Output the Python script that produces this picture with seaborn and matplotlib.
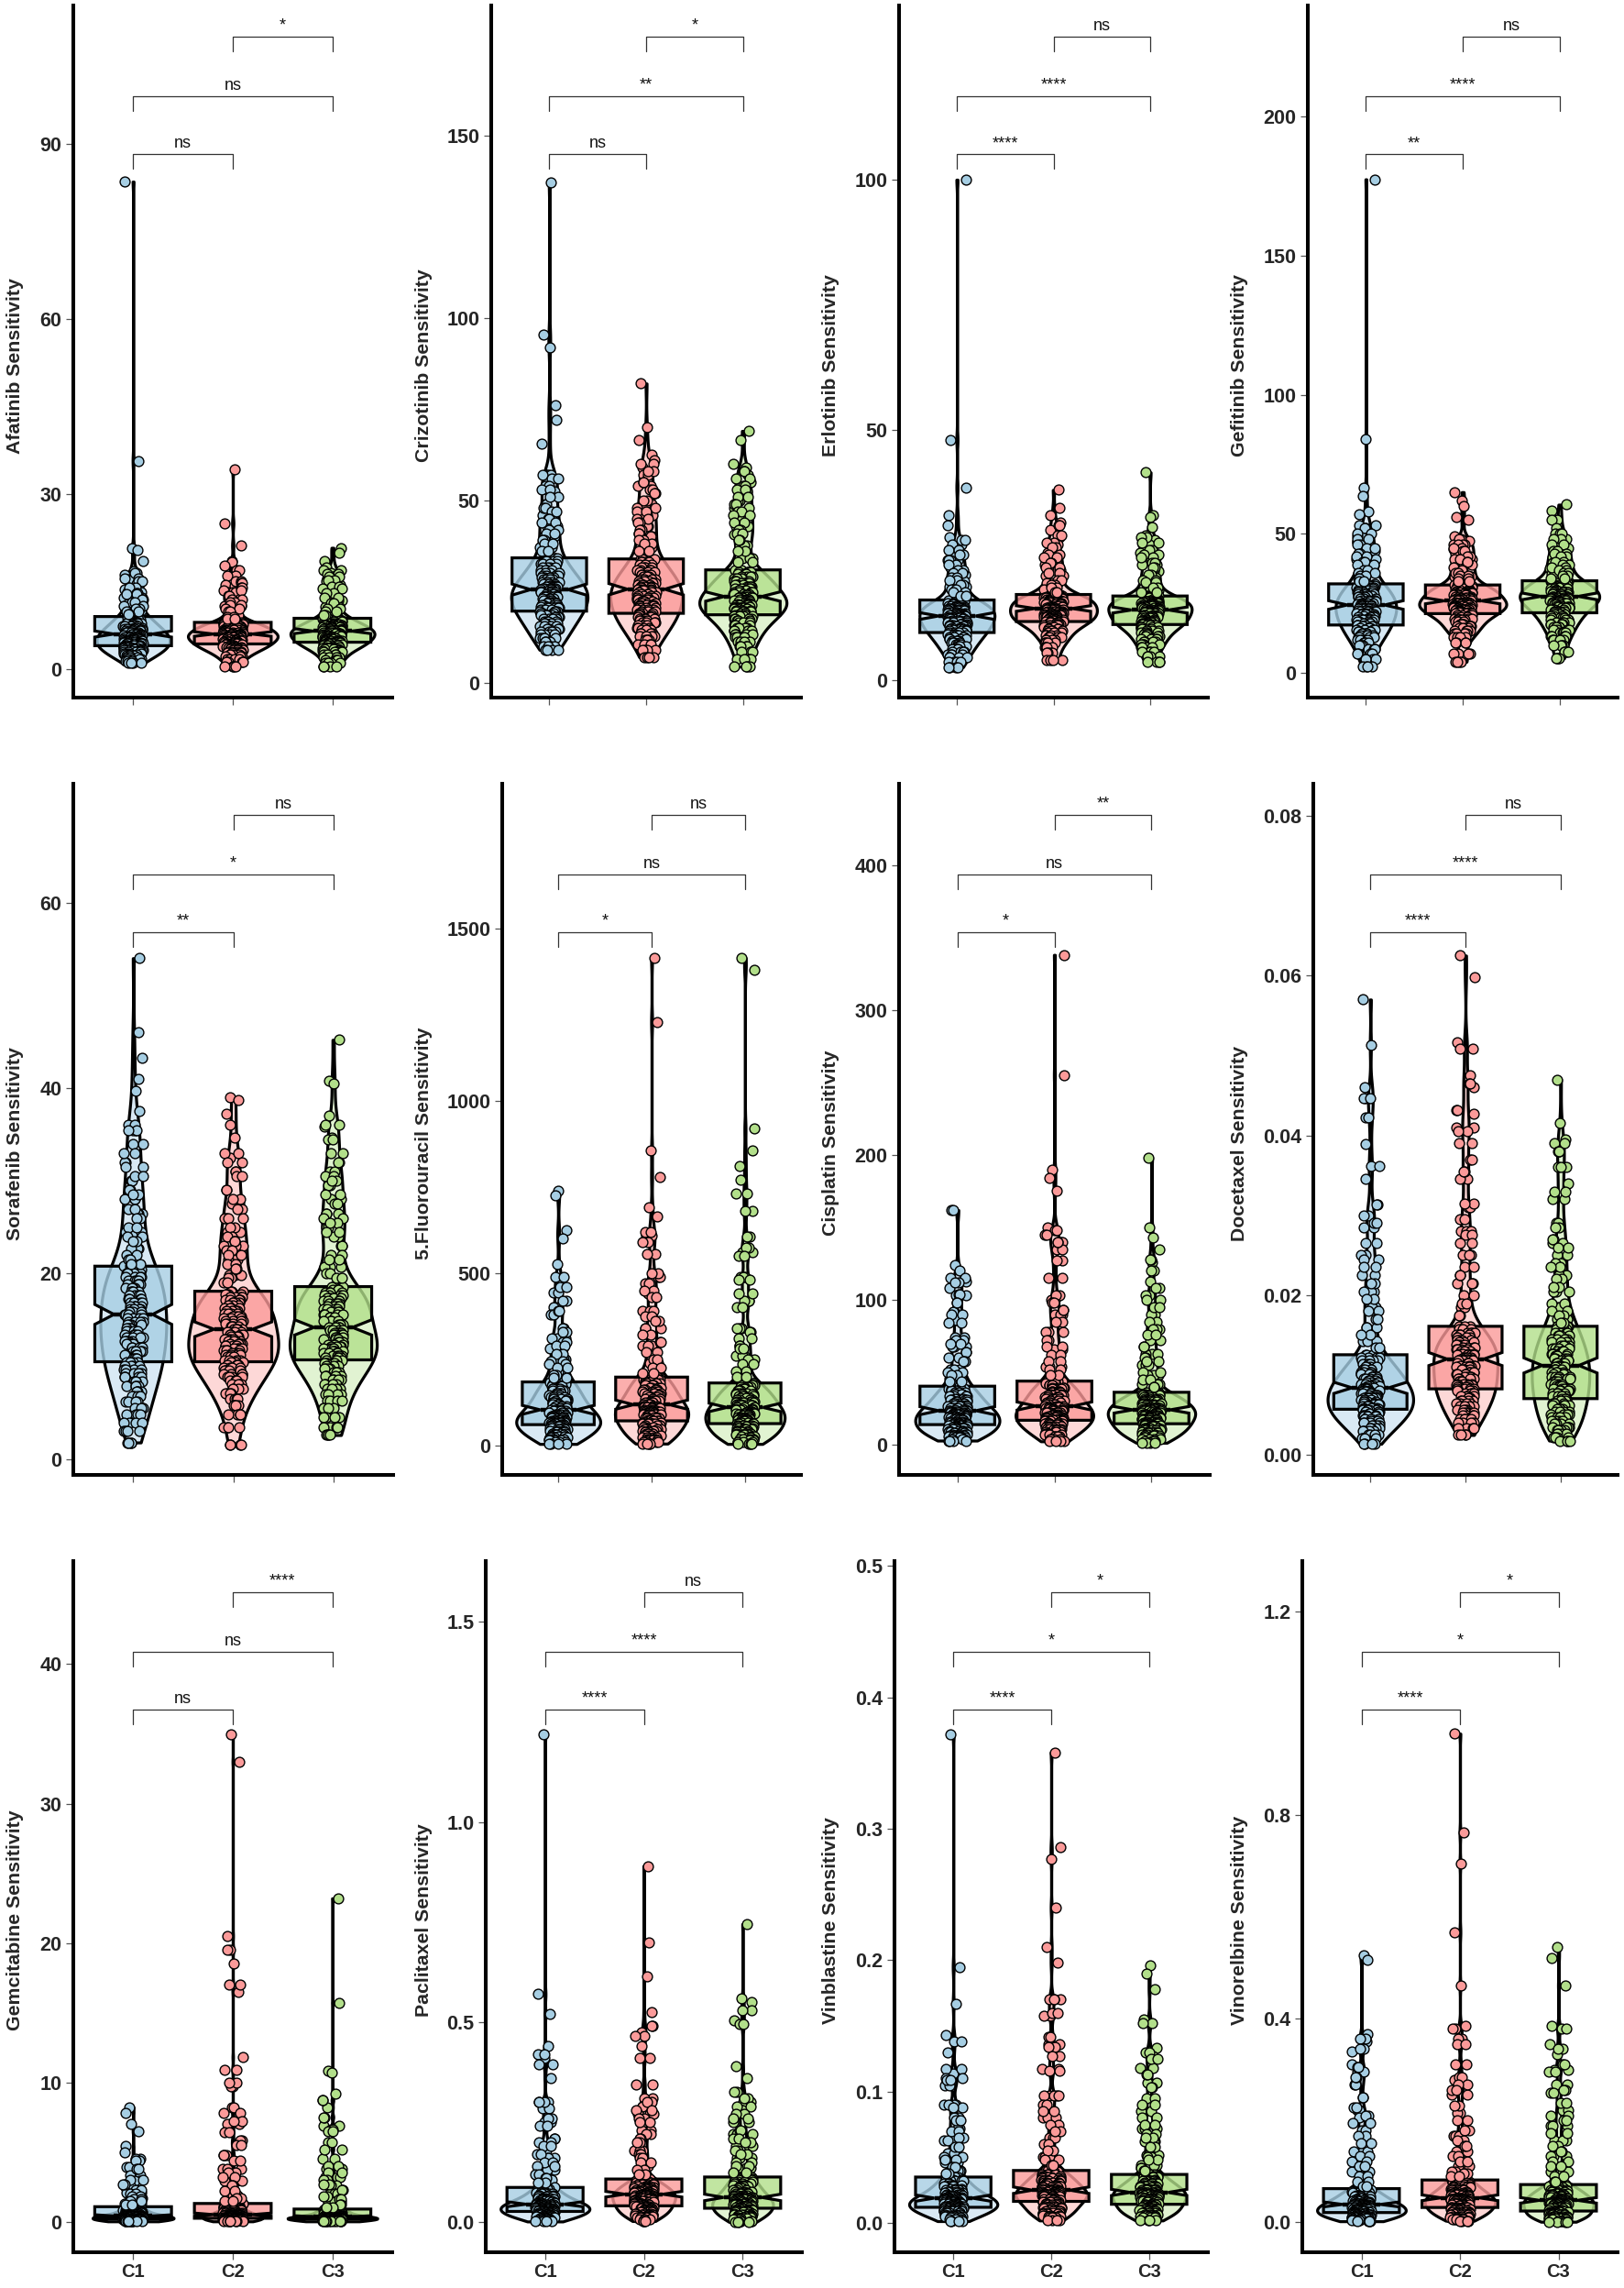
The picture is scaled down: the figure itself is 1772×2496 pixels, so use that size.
import numpy as np
import pandas as pd
import matplotlib
matplotlib.use("Agg")
import matplotlib.pyplot as plt
import matplotlib.transforms as mtrans
from matplotlib.colors import to_rgba
import seaborn as sns

categories = ["C1", "C2", "C3"]

# Values, largest first. The reference has about 200 samples per
# group, too many to read one by one, so each typed value stands for a few samples:
# see sample_weights below. No value is synthesised.
afatinib_c1 = [83.6,35.7,20.8,20.4,18.5,16.8,16.1,15.4,14.6,13.7,13.2,12.3,11.2,10.1,9.0,8.8,8.5,8.2,8.0,7.8,7.5,7.3,7.0,6.9,6.7,6.5,6.3,6.2,6.0,5.9,5.8,5.6,5.5,5.3,5.2,5.0,4.9,4.7,4.6,4.4,4.3,4.1,4.0,3.9,3.7,3.6,3.4,3.3,3.1,2.9,2.7,2.5,2.3,2.0,1.7,1.4,1.0]
afatinib_c2 = [34.3,25.0,21.2,18.5,18.3,17.8,17.0,16.0,14.5,14.3,13.2,12.1,10.8,9.3,8.0,7.9,7.7,7.6,7.4,7.3,7.1,7.0,6.8,6.7,6.5,6.4,6.2,6.1,6.0,5.9,5.8,5.7,5.6,5.5,5.4,5.3,5.1,5.0,4.9,4.7,4.6,4.4,4.3,4.2,4.1,3.9,3.8,3.6,3.4,3.2,3.0,2.8,2.5,2.1,1.7,1.2,0.5]
afatinib_c3 = [20.8,20.0,18.5,17.5,16.5,16.0,15.5,15.0,14.5,13.4,12.6,11.7,10.6,9.6,8.7,8.6,8.3,8.1,7.9,7.7,7.5,7.3,7.2,7.0,6.9,6.8,6.6,6.5,6.5,6.3,6.2,6.1,6.0,5.8,5.7,5.6,5.4,5.3,5.2,5.0,4.9,4.7,4.6,4.5,4.3,4.2,4.0,3.8,3.6,3.4,3.1,2.9,2.5,2.0,1.6,1.0,0.5]
afatinib_upper = ([16.5,15.5,15,14,13,12.8,12,11.5,10.8,10.4,9.8,9.4], [15,14.8,14,13.5,12.6,12,11.5,11,10.3,9.8,9,8.6], [17,16.3,15.8,15.2,14.2,13.8,13,12.3,11.3,10.3,9.9,9.2])

crizotinib_c1 = [137.0,95.5,92.0,76.0,72.0,65.5,57.0,55.0,52.5,49.0,46.0,43.0,40.0,37.0,34.2,33.4,32.5,31.6,30.8,30.0,29.4,28.8,28.2,27.6,27.0,26.6,26.2,25.8,25.5,25.1,24.7,24.3,23.9,23.5,23.0,22.6,22.1,21.7,21.3,20.9,20.4,20.0,19.6,19.1,18.5,18.0,17.4,16.8,16.2,15.5,14.8,14.0,13.2,12.2,11.2,10.0,9.0]
crizotinib_c2 = [82.0,70.0,66.5,62.5,61.0,59.0,57.0,54.0,53.0,49.0,46.0,43.0,40.0,37.0,33.9,33.2,32.4,31.6,30.9,30.2,29.6,29.0,28.4,27.8,27.2,26.8,26.3,26.0,25.6,25.2,24.8,24.3,23.8,23.4,22.9,22.4,21.9,21.4,21.0,20.5,20.0,19.5,19.0,18.6,18.0,17.5,16.9,16.4,15.8,15.1,14.4,13.6,12.7,11.7,10.5,9.0,7.0]
crizotinib_c3 = [69.0,66.5,60.0,59.0,57.0,55.0,52.5,50.0,48.0,45.5,43.0,40.5,37.5,34.0,30.9,30.3,29.7,29.1,28.5,27.9,27.3,26.8,26.3,25.8,25.2,24.8,24.4,24.0,23.6,23.2,22.8,22.5,22.2,21.8,21.5,21.2,20.8,20.5,20.2,19.8,19.4,19.0,18.6,18.2,17.6,17.0,16.4,15.7,15.0,14.2,13.3,12.4,11.2,10.0,8.5,6.5,4.4]
crizotinib_upper = ([57,56,54,53,51,48,47,45,44,42,41,39,38,36], [60,58,55,52,50,48,47,45,44,42,41,39,38,36], [58,56,54,53,51,49,47,46,44,42,41,39,36,33])

erlotinib_c1 = [100.0,48.0,38.5,33.0,31.0,28.5,27.0,25.5,24.0,22.5,21.0,19.8,18.6,17.2,16.0,15.7,15.4,15.1,14.9,14.7,14.5,14.3,14.1,13.9,13.6,13.4,13.2,13.0,12.8,12.6,12.4,12.2,11.9,11.7,11.5,11.2,11.0,10.8,10.5,10.2,10.0,9.8,9.5,9.2,8.9,8.6,8.2,7.9,7.5,7.1,6.7,6.2,5.7,5.1,4.5,3.6,2.6]
erlotinib_c2 = [38.0,34.5,33.0,31.5,30.0,28.5,27.0,25.5,24.0,23.0,22.0,20.8,19.4,18.2,17.1,16.9,16.7,16.5,16.3,16.1,15.9,15.7,15.5,15.3,15.1,14.9,14.7,14.5,14.3,14.1,14.0,13.8,13.6,13.4,13.2,13.0,12.8,12.6,12.4,12.2,12.0,11.9,11.7,11.5,11.2,10.9,10.6,10.2,9.9,9.5,9.0,8.5,8.0,7.4,6.6,5.4,4.0]
erlotinib_c3 = [41.5,33.0,32.5,30.5,29.0,28.0,27.0,25.5,24.3,23.0,21.8,20.5,19.2,18.0,16.8,16.6,16.4,16.2,16.0,15.8,15.6,15.4,15.2,15.0,14.8,14.6,14.4,14.2,14.0,13.9,13.7,13.5,13.3,13.0,12.8,12.6,12.4,12.1,11.9,11.7,11.5,11.3,11.1,10.9,10.6,10.2,9.9,9.5,9.1,8.7,8.2,7.7,7.1,6.5,5.7,4.7,3.6]
erlotinib_upper = ([28,26,25,24,23,22,21.5,20.5,20,19,18.2,17.5,16.8], [31,29,27.5,26.5,25,24.5,23.5,22.5,21.5,20,19,18.5,17.6], [28.5,27.5,26,25,24.5,23.5,22.5,21,20,19.5,18.5,17.5])

gefitinib_c1 = [177.5,84.0,66.5,63.5,58.0,57.0,53.0,51.0,49.0,47.0,44.0,41.0,38.5,35.0,32.0,31.4,30.8,30.2,29.6,29.0,28.4,27.8,27.2,26.7,26.2,25.7,25.2,24.8,24.4,24.0,23.5,23.0,22.5,22.0,21.5,21.0,20.5,20.0,19.5,19.0,18.4,17.8,17.2,16.8,16.2,15.5,14.9,14.2,13.5,12.7,11.8,10.8,9.8,8.5,7.0,5.0,2.3]
gefitinib_c2 = [65.0,62.0,60.0,56.0,55.0,49.0,47.5,46.0,44.5,43.0,41.0,39.0,37.0,34.5,31.6,31.2,30.7,30.3,29.9,29.5,29.1,28.7,28.3,27.9,27.5,27.0,26.6,26.3,25.9,25.5,25.2,24.9,24.6,24.3,24.0,23.7,23.4,23.1,22.8,22.4,22.0,21.7,21.3,20.8,20.2,19.6,19.0,18.3,17.6,16.8,16.0,15.1,14.2,13.0,11.0,7.0,4.0]
gefitinib_c3 = [60.5,58.5,55.0,55.0,52.0,50.0,48.0,47.0,45.0,43.0,41.5,39.5,37.5,35.5,33.1,32.7,32.2,31.8,31.4,31.0,30.6,30.2,29.8,29.3,28.9,28.5,28.2,27.8,27.5,27.1,26.8,26.5,26.2,25.8,25.5,25.1,24.7,24.2,23.8,23.3,22.8,22.2,21.6,21.0,20.4,19.7,19.0,18.2,17.4,16.5,15.5,14.4,13.2,11.8,10.0,7.5,5.2]
gefitinib_upper = ([52,50,48,46,45,43,42,40,39,37,36,35,34,33], [48,46,45,44,42,41,40,38,37,36,35,34,33], [50,48,46,44,43,42,40,39,38,37,36,35,34])

sorafenib_c1 = [54.0,46.0,43.3,41.0,39.7,37.5,35.5,34.0,32.0,30.0,28.0,26.5,24.5,22.7,20.8,20.4,20.0,19.6,19.2,18.9,18.5,18.1,17.7,17.3,16.9,16.5,16.2,15.9,15.6,15.2,14.8,14.5,14.1,13.8,13.4,13.1,12.7,12.4,12.0,11.6,11.2,10.8,10.5,10.1,9.7,9.3,8.9,8.4,7.9,7.3,6.8,6.2,5.5,4.8,3.9,3.0,1.8]
sorafenib_c2 = [39.0,38.7,37.2,36.0,34.7,32.5,31.0,29.0,27.5,26.0,24.5,23.0,21.5,19.8,18.1,17.8,17.5,17.2,16.9,16.6,16.3,16.0,15.7,15.4,15.2,14.9,14.6,14.3,14.0,13.7,13.4,13.2,12.9,12.7,12.4,12.2,11.9,11.7,11.4,11.2,11.0,10.7,10.5,10.2,9.9,9.6,9.2,8.9,8.5,8.1,7.6,7.1,6.5,5.8,4.8,3.4,1.6]
sorafenib_c3 = [45.2,40.8,40.5,37.0,35.8,34.7,33.0,31.0,29.5,28.0,26.5,25.0,23.0,20.7,18.6,18.3,18.0,17.7,17.4,17.1,16.8,16.5,16.2,15.9,15.6,15.3,14.9,14.5,14.2,13.9,13.6,13.4,13.1,12.9,12.6,12.3,12.1,11.9,11.6,11.4,11.1,10.9,10.7,10.4,10.1,9.8,9.4,9.0,8.6,8.1,7.6,7.0,6.3,5.5,4.5,3.4,2.6]
sorafenib_upper = ([36,35.5,33,31.5,30.5,29,28.5,27,26,25,24,23.5,22,21.5,21], [33,32,30.5,28,27,26,25,24,23.5,22.5,22,21,20.5,19.5,19], [36,34.5,32,30.5,30,28.5,27.5,26,25.5,24,24.5,22,21.5,20,19.5])

fluorouracil_c1 = [740,725,625,600,525,480,445,400,380,340,310,280,250,215,184,178,171,165,158,152,146,140,134,129,124,119,113,108,103,99,95,91,87,84,81,78,75,72,69,67,65,62,60,57,54,50,46,42,38,34,30,26,22,18,14,9,4]
fluorouracil_c2 = [1415,1230,855,780,690,665,610,555,490,440,390,340,290,240,198,192,186,180,174,168,162,156,150,145,140,135,130,124,118,114,110,107,104,101,98,95,92,89,86,82,78,74,71,67,63,58,53,48,43,38,33,28,23,18,14,10,5]
fluorouracil_c3 = [1415,1380,920,855,810,770,730,680,605,560,490,420,340,260,181,176,170,164,158,152,147,142,137,132,128,124,120,115,110,106,102,98,95,92,89,86,83,80,77,74,71,67,63,59,55,51,47,43,39,35,31,27,23,19,14,9,4]
fluorouracil_upper = ([490,460,420,390,330,300,290,265,245,235,225,205,195], [620,590,500,470,450,430,375,360,320,300,270,250,225,210], [575,550,480,440,400,330,310,290,280,250,235,215,200])

cisplatin_c1 = [162,162,124,120,113,108,103,92,86,74,68,60,52,46,40.5,39,37.5,36,35,33.5,32,31,30,28.5,27.5,26.5,25.5,24.5,23.6,23,22.3,21.6,21,20.3,19.6,19,18.3,17.6,17,16.2,15.5,14.8,14,13.5,12.8,12,11.3,10.6,9.8,9,8.2,7.4,6.6,5.8,5,4,3]
cisplatin_c2 = [338,255,190,184,175,150,140,135,115,100,90,78,66,54,44,42.5,41,39.5,38.5,37,36,35,34,32.8,31.8,30.5,29.5,28,26.8,26,25.3,24.6,24,23.3,22.6,22,21.3,20.6,20,19.3,18.6,17.8,17,16.4,15.6,14.8,14,13.1,12.2,11.2,10.2,9.2,8,7,5.6,4.2,2.5]
cisplatin_c3 = [198,150,143,135,126,113,103,90,80,72,63,55,48,42,36.3,35,34,33,32,31.2,30.4,29.6,28.8,28,27.2,26.4,25.6,24.9,24.2,23.6,23,22.4,21.8,21.2,20.6,20,19.4,18.7,18,17,16,15.3,14.6,14,13.3,12.6,11.8,11,10,9.2,8.2,7.2,6.2,5.2,4,2.8,1.5]
cisplatin_upper = ([115,112,104,98,90,84,72,70,64,58,50,48,44], [148,145,140,127,103,98,93,85,72,68,62,58,52,48], [128,120,108,100,95,85,80,76,68,60,58,50,45,40])

docetaxel_c1 = [.057,.0513,.046,.0446,.0389,.0345,.0314,.0285,.025,.0225,.0205,.0185,.016,.0142,.01254,.0122,.0118,.0114,.011,.0107,.0104,.0101,.0098,.0096,.0093,.0091,.0089,.0086,.0084,.0083,.0081,.0079,.0077,.0075,.0073,.0071,.0069,.0067,.0065,.0063,.0061,.0059,.00572,.0056,.0054,.0052,.005,.0048,.0045,.0043,.004,.0037,.0034,.003,.0026,.0021,.0014]
docetaxel_c2 = [.0625,.0598,.0517,.0475,.046,.0427,.041,.037,.0345,.031,.028,.025,.0215,.0185,.0161,.0157,.0153,.015,.0147,.0144,.0141,.0138,.0135,.0132,.013,.0127,.0125,.0122,.012,.0118,.0115,.0112,.011,.0107,.0104,.0101,.0098,.0095,.0092,.0089,.0087,.0085,.00827,.008,.0077,.0074,.0071,.0068,.0064,.0061,.0057,.0053,.0049,.0045,.004,.0033,.0025]
docetaxel_c3 = [.047,.0415,.0395,.038,.036,.034,.032,.029,.0265,.025,.0225,.0205,.0185,.017,.0161,.0157,.0153,.0149,.0145,.0141,.0137,.0133,.013,.0127,.0124,.0121,.0118,.0115,.0112,.011,.0107,.0104,.0101,.0098,.0095,.0092,.0089,.0086,.0083,.008,.0077,.0074,.00705,.0068,.0065,.0062,.0058,.0054,.0051,.0047,.0043,.0039,.0035,.0031,.0027,.0022,.0018]
docetaxel_upper = ([.0447,.0422,.0362,.03,.029,.0265,.0245,.0235,.0215,.0195,.018,.017,.015,.0135], [.0508,.0465,.0432,.0405,.039,.0355,.0315,.0295,.0275,.0265,.0235,.0225,.02,.019,.0175], [.039,.038,.036,.033,.0285,.027,.026,.024,.0235,.022,.021,.019,.018,.0175,.0165])

gemcitabine_c1 = [8.2,7.8,7.0,6.5,5.4,5.0,4.5,3.9,3.3,2.9,2.5,2.1,1.7,1.3,1.07,1.0,.95,.9,.85,.8,.75,.7,.65,.62,.58,.54,.5,.45,.4,.39,.38,.37,.36,.35,.34,.33,.32,.3,.29,.27,.25,.23,.2,.19,.18,.17,.16,.15,.14,.13,.12,.1,.09,.07,.06,.04,.02]
gemcitabine_c2 = [35.0,33.0,20.5,18.5,16.5,11.8,9.7,8.2,7.0,5.8,4.8,3.8,2.9,1.9,1.3,1.2,1.15,1.1,1.05,1.0,.95,.9,.85,.8,.72,.66,.6,.55,.5,.48,.46,.44,.42,.4,.38,.36,.34,.32,.3,.29,.27,.26,.24,.23,.22,.21,.2,.19,.18,.16,.15,.13,.11,.09,.07,.05,.02]
gemcitabine_c3 = [23.2,15.7,10.8,10.7,9.2,8.2,6.9,5.7,4.5,3.8,3.2,2.6,2.0,1.4,.9,.86,.82,.78,.75,.72,.68,.64,.6,.56,.52,.47,.42,.38,.35,.34,.33,.32,.31,.3,.29,.28,.27,.26,.25,.24,.23,.22,.2,.19,.18,.17,.16,.15,.14,.13,.12,.1,.09,.07,.06,.04,.02]
gemcitabine_upper = ([4.4,3.8,3.0,2.7,2.3,2.0,1.8,1.6,1.5,1.2], [19.5,17,10.9,10,7.8,7.2,6.4,5.5,4.4,3.5,3.2,2.6,2.2,1.7,1.5], [8.7,7.5,6.6,6.5,5.2,4,3.5,3,2.7,2.3,1.8,1.6,1.2,1])

paclitaxel_c1 = [1.22,.57,.52,.44,.41,.36,.30,.285,.25,.21,.18,.16,.13,.105,.087,.083,.079,.075,.071,.067,.064,.061,.058,.056,.053,.051,.049,.047,.045,.044,.043,.042,.041,.04,.039,.037,.036,.034,.033,.031,.03,.028,.027,.026,.025,.023,.022,.02,.019,.017,.015,.014,.012,.01,.008,.005,.002]
paclitaxel_c2 = [.89,.70,.615,.525,.475,.44,.41,.345,.31,.29,.27,.23,.18,.14,.108,.104,.1,.097,.094,.091,.088,.085,.082,.08,.078,.076,.074,.072,.07,.068,.066,.065,.063,.061,.059,.057,.055,.053,.051,.048,.046,.043,.041,.039,.037,.035,.032,.03,.027,.025,.022,.02,.017,.014,.011,.008,.003]
paclitaxel_c3 = [.745,.56,.55,.505,.39,.36,.325,.30,.28,.25,.22,.19,.16,.135,.113,.109,.105,.101,.097,.093,.089,.085,.081,.077,.074,.071,.068,.065,.062,.06,.059,.057,.055,.053,.051,.049,.047,.045,.043,.041,.039,.037,.035,.033,.031,.029,.027,.025,.022,.02,.017,.015,.012,.01,.007,.004,.001]
paclitaxel_upper = ([.42,.395,.3,.26,.24,.2,.19,.17,.15,.14,.12,.11,.1], [.49,.465,.3,.28,.26,.25,.22,.21,.2,.17,.16,.15,.13,.12], [.53,.495,.31,.29,.27,.26,.23,.21,.2,.18,.17,.15,.14,.125])

vinblastine_c1 = [.372,.195,.167,.143,.13,.114,.105,.09,.08,.072,.063,.053,.046,.04,.035,.033,.032,.03,.029,.028,.026,.025,.024,.023,.022,.021,.02,.0195,.019,.0185,.018,.0175,.017,.0165,.016,.0155,.015,.0145,.014,.0135,.013,.0125,.012,.0115,.011,.0105,.01,.0095,.009,.008,.0075,.0065,.006,.005,.004,.003,.0015]
vinblastine_c2 = [.358,.286,.277,.24,.21,.198,.17,.158,.136,.117,.097,.08,.065,.05,.04,.039,.037,.036,.035,.034,.033,.032,.031,.03,.029,.028,.027,.026,.025,.0245,.024,.0235,.023,.0225,.022,.0215,.021,.0205,.02,.019,.018,.0175,.0165,.016,.015,.014,.013,.012,.011,.01,.009,.008,.007,.006,.005,.004,.002]
vinblastine_c3 = [.196,.19,.178,.155,.133,.127,.118,.107,.095,.085,.072,.062,.052,.044,.037,.036,.035,.033,.032,.031,.03,.029,.028,.027,.026,.0255,.025,.024,.0233,.023,.0225,.022,.0215,.021,.02,.0195,.019,.018,.0175,.017,.016,.015,.0143,.0135,.013,.012,.011,.0105,.01,.009,.008,.0075,.0065,.0055,.005,.004,.002]
vinblastine_upper = ([.138,.117,.11,.109,.09,.088,.078,.07,.065,.058,.05,.048,.043,.038], [.17,.16,.142,.134,.127,.116,.097,.09,.085,.075,.07,.06,.055,.048,.044], [.152,.13,.125,.113,.103,.09,.08,.075,.068,.065,.058,.05,.048,.042,.04])

vinorelbine_c1 = [.525,.515,.37,.355,.335,.31,.295,.27,.245,.22,.205,.18,.14,.10,.066,.063,.06,.058,.055,.053,.05,.048,.046,.044,.042,.04,.038,.037,.035,.034,.033,.032,.031,.03,.029,.028,.027,.026,.025,.024,.022,.02,.019,.018,.017,.016,.015,.014,.013,.012,.011,.01,.009,.007,.006,.004,.002]
vinorelbine_c2 = [.96,.765,.705,.57,.465,.385,.36,.31,.28,.25,.215,.17,.14,.11,.083,.08,.077,.074,.071,.068,.065,.063,.06,.058,.056,.054,.052,.05,.048,.047,.046,.045,.044,.043,.042,.041,.04,.038,.036,.034,.032,.03,.029,.028,.026,.025,.023,.021,.02,.018,.016,.014,.012,.01,.008,.006,.003]
vinorelbine_c3 = [.54,.52,.465,.385,.35,.33,.30,.27,.255,.22,.19,.16,.13,.10,.074,.071,.068,.066,.063,.061,.059,.057,.055,.053,.051,.049,.047,.045,.043,.042,.041,.04,.039,.038,.037,.036,.035,.033,.031,.029,.027,.024,.022,.021,.02,.019,.017,.016,.014,.012,.011,.01,.008,.007,.005,.003,.001]
vinorelbine_upper = ([.36,.34,.305,.285,.225,.21,.195,.17,.155,.13,.12,.11,.09,.08,.07], [.38,.35,.285,.27,.26,.23,.2,.18,.16,.15,.13,.12,.1,.095,.09], [.38,.34,.31,.295,.26,.235,.21,.2,.175,.15,.14,.12,.11,.09,.08])

panel_names = ["Afatinib", "Crizotinib", "Erlotinib", "Gefitinib",
               "Sorafenib", "5.Fluorouracil", "Cisplatin", "Docetaxel",
               "Gemcitabine", "Paclitaxel", "Vinblastine", "Vinorelbine"]
panel_values = [
    (afatinib_c1, afatinib_c2, afatinib_c3),
    (crizotinib_c1, crizotinib_c2, crizotinib_c3),
    (erlotinib_c1, erlotinib_c2, erlotinib_c3),
    (gefitinib_c1, gefitinib_c2, gefitinib_c3),
    (sorafenib_c1, sorafenib_c2, sorafenib_c3),
    (fluorouracil_c1, fluorouracil_c2, fluorouracil_c3),
    (cisplatin_c1, cisplatin_c2, cisplatin_c3),
    (docetaxel_c1, docetaxel_c2, docetaxel_c3),
    (gemcitabine_c1, gemcitabine_c2, gemcitabine_c3),
    (paclitaxel_c1, paclitaxel_c2, paclitaxel_c3),
    (vinblastine_c1, vinblastine_c2, vinblastine_c3),
    (vinorelbine_c1, vinorelbine_c2, vinorelbine_c3),
]
panel_upper = [afatinib_upper, crizotinib_upper, erlotinib_upper, gefitinib_upper,
               sorafenib_upper, fluorouracil_upper, cisplatin_upper, docetaxel_upper,
               gemcitabine_upper, paclitaxel_upper, vinblastine_upper, vinorelbine_upper]
panel_ticks = [
    ([0, 30, 60, 90], ["0", "30", "60", "90"]),
    ([0, 50, 100, 150], ["0", "50", "100", "150"]),
    ([0, 50, 100], ["0", "50", "100"]),
    ([0, 50, 100, 150, 200], ["0", "50", "100", "150", "200"]),
    ([0, 20, 40, 60], ["0", "20", "40", "60"]),
    ([0, 500, 1000, 1500], ["0", "500", "1000", "1500"]),
    ([0, 100, 200, 300, 400], ["0", "100", "200", "300", "400"]),
    ([0, .02, .04, .06, .08], ["0.00", "0.02", "0.04", "0.06", "0.08"]),
    ([0, 10, 20, 30, 40], ["0", "10", "20", "30", "40"]),
    ([0, .5, 1, 1.5], ["0.0", "0.5", "1.0", "1.5"]),
    ([0, .1, .2, .3, .4, .5], ["0.0", "0.1", "0.2", "0.3", "0.4", "0.5"]),
    ([0, .4, .8, 1.2], ["0.0", "0.4", "0.8", "1.2"]),
]
panel_ylim = [(-4.9, 113.8), (-4.1, 185.6), (-3.5, 134.8), (-8.9, 240),
              (-1.7, 72.8), (-86, 1921), (-20.7, 456), (-.0025, .084),
              (-2.2, 47.4), (-.075, 1.652), (-.0222, .5036), (-.059, 1.299)]
panel_sig = [("ns", "ns", "*"), ("ns", "**", "*"), ("****", "****", "ns"), ("**", "****", "ns"),
             ("**", "*", "ns"), ("*", "ns", "ns"), ("*", "ns", "**"), ("****", "****", "ns"),
             ("ns", "ns", "****"), ("****", "****", "ns"), ("****", "*", "*"), ("****", "*", "*")]

W, H = 1772, 2496
row_px = [(6, 761), (855, 1609), (1703, 2457)]
col_px = [[(80, 428), (536, 874), (981, 1318), (1427, 1765)],
          [(80, 429), (548, 874), (981, 1320), (1433, 1765)],
          [(80, 428), (530, 875), (976, 1318), (1421, 1765)]]
label_px = [17, 463, 906, 1352]
point_colors = ["#a6cee3", "#fb9a99", "#b2df8a"]
violin_colors = ["#d9e9f4", "#fdd8d7", "#e1f3d2"]
# samples represented by each typed value: outliers once, the dense body four times
sample_weights = [1] * 6 + [2] * 4 + [3] * 4 + [4] * 43

sns.set_style("white")
plt.rcParams["font.family"] = ["Liberation Sans", "DejaVu Sans"]
np.random.seed(7)


def bandwidth(v):
    q1, q3 = np.percentile(v, [25, 75])
    return 0.9 * min(v.std(ddof=1), (q3 - q1) / 1.34) * len(v) ** -0.2


def peak_density(v, bw):
    grid = np.linspace(v.min(), v.max(), 512)
    return np.exp(-0.5 * ((grid[:, None] - v) / bw) ** 2).mean(axis=1).max() / bw


fig = plt.figure(figsize=(W / 100, H / 100), dpi=100, facecolor="white")
for idx, name in enumerate(panel_names):
    r, c = divmod(idx, 4)
    (x0, x1), (y0, y1) = col_px[r][c], row_px[r]
    ax = fig.add_axes([x0 / W, 1 - y1 / H, (x1 - x0) / W, (y1 - y0) / H])
    typed = [np.array(g, dtype=float) for g in panel_values[idx]]
    groups = [np.concatenate([np.repeat(g, sample_weights[:len(g)]),
                              np.repeat(np.array(u, dtype=float), 2)])
              for g, u in zip(typed, panel_upper[idx])]
    bws = [bandwidth(g) for g in groups]
    peaks = [peak_density(g, b) for g, b in zip(groups, bws)]
    for i, (cat, g) in enumerate(zip(categories, groups)):
        frame = pd.DataFrame({"cluster": cat, "value": g})
        sns.violinplot(data=frame, x="cluster", y="value", order=categories, ax=ax,
                       color=violin_colors[i], saturation=1, inner=None, cut=0,
                       density_norm="width", width=0.9 * peaks[i] / max(peaks),
                       bw_method=bws[i] / g.std(ddof=1), gridsize=512,
                       linecolor="black", linewidth=2.3)
        notch_frame = pd.DataFrame({"cluster": cat, "value": np.repeat(typed[i], 4)})
        sns.boxplot(data=notch_frame, x="cluster", y="value", order=categories, ax=ax,
                    color=point_colors[i], saturation=1, width=0.77, whis=0, notch=True,
                    showcaps=False, showfliers=False, linecolor="black", linewidth=2.3,
                    boxprops={"facecolor": to_rgba(point_colors[i], 0.8)},
                    medianprops={"color": "black", "linewidth": 3.2})
        sns.stripplot(data=frame, x="cluster", y="value", order=categories, ax=ax,
                      color=point_colors[i], jitter=0.1, size=7.8, linewidth=1.0,
                      edgecolor="black", zorder=4)

    ax.set_xlim(-0.6, 2.6)
    ax.set_ylim(*panel_ylim[idx])
    ticks, labels = panel_ticks[idx]
    ax.set_yticks(ticks)
    ax.set_yticklabels(labels, fontsize=15.5, fontweight="bold")
    ax.set_xticks(range(3))
    if r == 2:
        ax.set_xticklabels(categories, fontsize=14.5, fontweight="bold")
    else:
        ax.set_xticklabels([])
    ax.tick_params(axis="both", length=6, width=0.9, color="#555555", pad=3, left=True, bottom=True)
    ax.set_xlabel("")
    ax.set_ylabel(f"{name} Sensitivity", fontsize=15.3, fontweight="bold", va="center")
    ax.yaxis.set_label_coords((label_px[c] - x0) / (x1 - x0), 0.48)
    sns.despine(ax=ax)
    for side in ("left", "bottom"):
        ax.spines[side].set_linewidth(2.9)
        ax.spines[side].set_color("black")

    trans = mtrans.blended_transform_factory(ax.transData, ax.transAxes)
    for (a, b), level, text in zip([(0, 1), (0, 2), (1, 2)], [0.785, 0.869, 0.955], panel_sig[idx]):
        ax.plot([a, a, b, b], [level - 0.021, level, level, level - 0.021], transform=trans,
                color="#333333", lw=0.9, clip_on=False, zorder=5)
        ax.text((a + b) / 2, level + 0.0095, text, transform=trans, ha="center", va="baseline",
                fontsize=13, color="#111111")

fig.savefig("out.png", dpi=100, facecolor="white")
